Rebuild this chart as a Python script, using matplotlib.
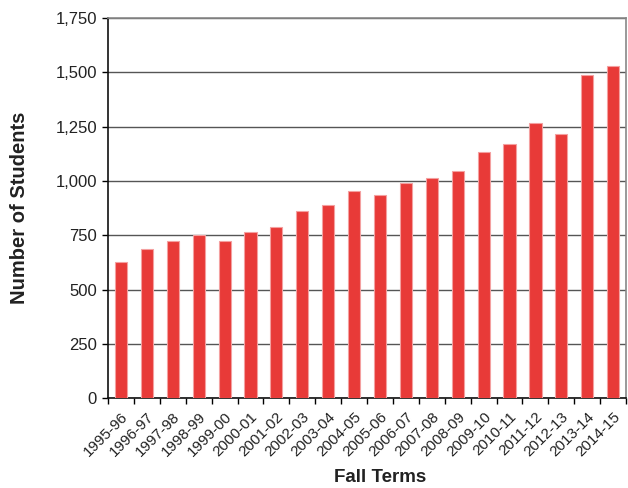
import matplotlib
matplotlib.use("Agg")
import matplotlib.pyplot as plt
import numpy as np

plt.rcParams['font.family'] = ['Liberation Sans', 'DejaVu Sans']

terms = ["1995-96", "1996-97", "1997-98", "1998-99", "1999-00", "2000-01",
         "2001-02", "2002-03", "2003-04", "2004-05", "2005-06", "2006-07",
         "2007-08", "2008-09", "2009-10", "2010-11", "2011-12", "2012-13",
         "2013-14", "2014-15"]
students = [628, 685, 724, 750, 724, 764, 790, 860, 890, 956, 934, 991,
            1016, 1048, 1135, 1170, 1267, 1215, 1490, 1529]
y_ticks = [0, 250, 500, 750, 1000, 1250, 1500, 1750]

fig = plt.figure(figsize=(6.28, 4.88), dpi=100)
ax = fig.add_axes([0.172, 0.184, 0.825, 0.779])

x = np.arange(len(terms))
ax.bar(x, students, width=0.47, color="#e83a38", edgecolor="#f4a0a0",
       linewidth=0.8, zorder=3)

ax.set_xlim(-0.5, len(terms) - 0.5)
ax.set_ylim(0, 1750)
ax.set_yticks(y_ticks)
ax.set_yticklabels([f"{v:,}" for v in y_ticks], fontsize=12, color="#222222")
ax.yaxis.grid(True, color="#555555", linewidth=1.0, zorder=1)

# ticks between bars, labels under bars
ax.set_xticks(np.arange(len(terms) + 1) - 0.5)
ax.set_xticklabels([])
ax.set_xticks(x, minor=True)
ax.set_xticklabels(terms, minor=True, rotation=45, ha="right",
                   rotation_mode="anchor", fontsize=11, color="#222222")
ax.tick_params(axis="x", which="major", length=4, width=1, direction="out")
ax.tick_params(axis="x", which="minor", length=0, pad=8)
ax.tick_params(axis="y", length=4, width=1, direction="out", pad=4)

for s in ["top", "right"]:
    ax.spines[s].set_color("#888888")
    ax.spines[s].set_linewidth(1.2)
for s in ["left", "bottom"]:
    ax.spines[s].set_color("#111111")
    ax.spines[s].set_linewidth(1.2)

ax.set_ylabel("Number of Students", fontsize=14.5, fontweight="bold",
              color="#222222")
ax.yaxis.set_label_coords(-0.152, 0.5)
ax.set_xlabel("Fall Terms", fontsize=13.5, fontweight="bold", color="#222222")
ax.xaxis.set_label_coords(0.525, -0.185)

fig.savefig("out.png", dpi=100)
